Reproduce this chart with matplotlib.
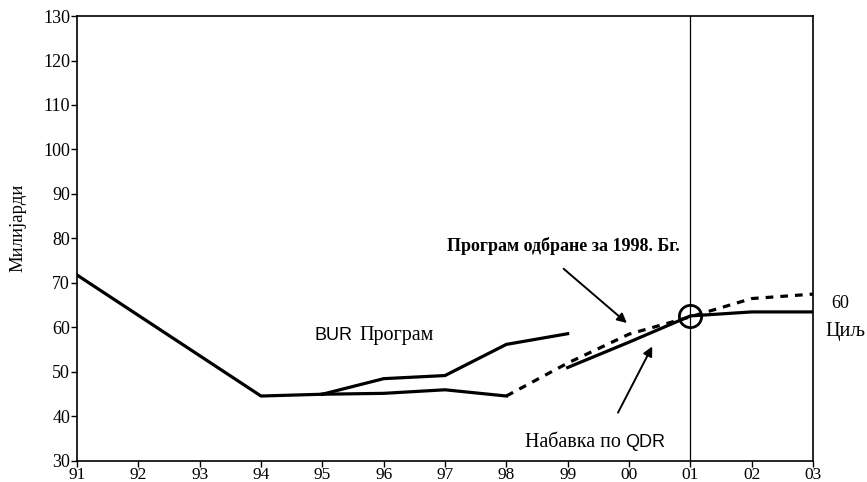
import matplotlib
matplotlib.use("Agg")
import matplotlib.pyplot as plt

# years shown as two-digit labels, 91 .. 03 (x = 91..103)
tickYears = [91, 92, 93, 94, 95, 96, 97, 98, 99, 100, 101, 102, 103]
tickLabels = ["91", "92", "93", "94", "95", "96", "97", "98", "99", "00", "01", "02", "03"]

# common line 91 -> 95
baseYears = [91, 94, 95]
baseValues = [71.8, 44.6, 45.0]

# BUR program, upper branch
burUpYears = [95, 96, 97, 98, 99]
burUpValues = [45.0, 48.5, 49.2, 56.2, 58.6]

# BUR program, lower branch
burLowYears = [95, 96, 97, 98]
burLowValues = [45.0, 45.2, 46.0, 44.6]

# 1998 defence program (dashed)
progYears = [98, 99, 100, 101, 102, 103]
progValues = [44.6, 52.0, 58.5, 62.4, 66.5, 67.5]

# QDR procurement (solid)
qdrYears = [99, 100, 101, 102, 103]
qdrValues = [51.0, 56.7, 62.6, 63.5, 63.5]

targetYear = 101
targetValue = 62.6

serif = "Liberation Serif"
sans = "Liberation Sans"

fig = plt.figure(figsize=(8.67, 4.82), dpi=100)
ax = fig.add_axes([0.0888, 0.0436, 0.8489, 0.9232])

lw = 2.3
ax.plot(baseYears, baseValues, color="black", lw=lw)
ax.plot(burUpYears, burUpValues, color="black", lw=lw)
ax.plot(burLowYears, burLowValues, color="black", lw=lw)
ax.plot(progYears, progValues, color="black", lw=lw, dashes=(2.4, 2.2))
ax.plot(qdrYears, qdrValues, color="black", lw=lw)

# vertical line at target year
ax.axvline(targetYear, color="black", lw=0.9)
ax.plot([targetYear], [targetValue], marker="o", markersize=16, markerfacecolor="none",
        markeredgecolor="black", markeredgewidth=2.0)

ax.set_xlim(91, 103)
ax.set_ylim(30, 130)
ax.set_xticks(tickYears)
ax.set_xticklabels(tickLabels)
ax.set_yticks(range(30, 131, 10))
for lab in ax.get_yticklabels():
    lab.set_fontfamily(serif)
    lab.set_fontsize(13)
for lab in ax.get_xticklabels():
    lab.set_fontfamily(serif)
    lab.set_fontsize(12.5)
ax.tick_params(axis="both", direction="out", length=4, width=1, pad=1)
ax.tick_params(axis="x", pad=0)
for s in ax.spines.values():
    s.set_linewidth(1.2)

ax.set_ylabel("Милијарди", fontfamily=serif, fontsize=13.5)
ax.yaxis.set_label_coords(-0.068, 0.524)

# annotations
ax.text(97.03, 78.3, "Програм одбране за 1998. Бг.", fontfamily=serif, fontsize=13,
        fontweight="bold", ha="left", va="center")
ax.annotate("", xy=(100.0, 60.6), xytext=(98.9, 73.6),
            arrowprops=dict(arrowstyle="-|>", color="black", lw=1.4, mutation_scale=14))

ax.text(94.88, 58.3, "BUR", fontfamily=sans, fontsize=13, ha="left", va="center")
ax.text(95.61, 58.3, "Програм", fontfamily=serif, fontsize=14.5, ha="left", va="center")

ax.text(98.3, 34.2, "Набавка по", fontfamily=serif, fontsize=14.4, ha="left", va="center")
ax.text(99.93, 34.2, "QDR", fontfamily=sans, fontsize=13, ha="left", va="center")
ax.annotate("", xy=(100.4, 56.3), xytext=(99.8, 40.3),
            arrowprops=dict(arrowstyle="-|>", color="black", lw=1.4, mutation_scale=14))

ax.text(103.3, 65.5, "60", fontfamily=serif, fontsize=13, ha="left", va="center",
        clip_on=False)
ax.text(103.2, 59.2, "Циљ", fontfamily=serif, fontsize=14.5, ha="left", va="center",
        clip_on=False)

fig.savefig("out.png", dpi=100)
